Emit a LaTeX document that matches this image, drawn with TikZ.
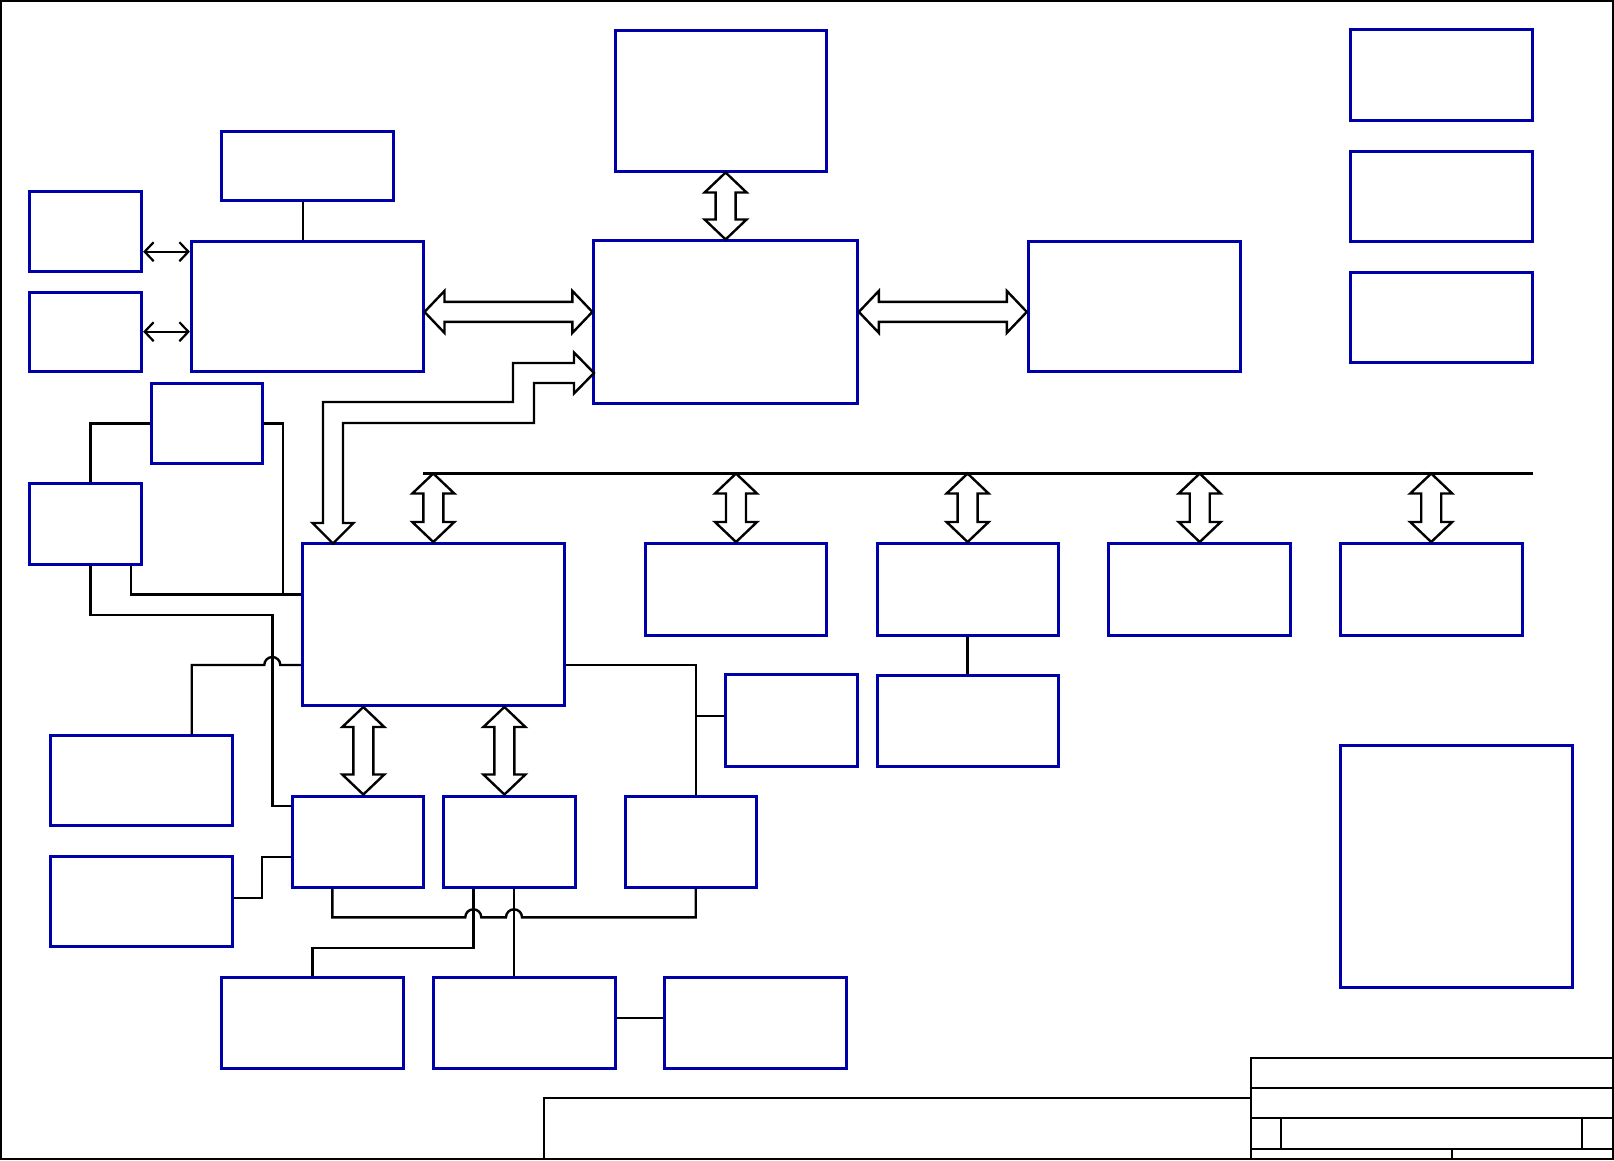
\documentclass[tikz,border=0pt]{standalone}
\usepackage{tikz}
\usetikzlibrary{calc,arrows.meta}

\definecolor{boxblue}{RGB}{0,0,170}

\tikzset{
  blk/.style={draw=boxblue,line width=3pt,rectangle,inner sep=0pt},
  wire/.style={draw=black,line width=2.4pt},
  thinarr/.style={draw=black,line width=2.2pt,
    {Straight Barb[length=9pt,width=19pt]}-{Straight Barb[length=9pt,width=19pt]}},
  fatarr/.style={draw=black,fill=white,line width=2.4pt},
  % double block arrow, start on top, target below
  vdbl/.style={fatarr,to path={let \p1=(\tikztostart), \p2=(\tikztotarget) in
    (\x1,\y1) -- (\x1+21pt,\y1-20pt) -- (\x1+10pt,\y1-20pt) -- (\x1+10pt,\y2+20pt)
    -- (\x1+21pt,\y2+20pt) -- (\x1,\y2) -- (\x1-21pt,\y2+20pt) -- (\x1-10pt,\y2+20pt)
    -- (\x1-10pt,\y1-20pt) -- (\x1-21pt,\y1-20pt) -- cycle}},
  % double block arrow, start left, target right
  hdbl/.style={fatarr,to path={let \p1=(\tikztostart), \p2=(\tikztotarget) in
    (\x1,\y1) -- (\x1+20pt,\y1+21pt) -- (\x1+20pt,\y1+10pt) -- (\x2-20pt,\y1+10pt)
    -- (\x2-20pt,\y1+21pt) -- (\x2,\y1) -- (\x2-20pt,\y1-21pt) -- (\x2-20pt,\y1-10pt)
    -- (\x1+20pt,\y1-10pt) -- (\x1+20pt,\y1-21pt) -- cycle}},
  tb/.style={draw=black,line width=1.5pt}
}

\begin{document}
\begin{tikzpicture}[x=1pt,y=-1pt]
  \useasboundingbox (0,0) rectangle (1614,1160);
  \draw[line width=2.4pt] (1,1) rectangle (1613,1159);

  % blocks
  \node[blk,minimum width=211pt,minimum height=141pt] (mem) at (721,100.5) {};
  \node[blk,minimum width=182pt,minimum height=91pt] (r1) at (1441.5,75) {};
  \node[blk,minimum width=182pt,minimum height=90pt] (r2) at (1441.5,196) {};
  \node[blk,minimum width=182pt,minimum height=90pt] (r3) at (1441.5,317.5) {};
  \node[blk,minimum width=172pt,minimum height=69pt] (clk) at (307.2,166.3) {};
  \node[blk,minimum width=111.7pt,minimum height=80.3pt] (io1) at (85.8,231.5) {};
  \node[blk,minimum width=111.7pt,minimum height=79.3pt] (io2) at (85.8,332) {};
  \node[blk,minimum width=231.6pt,minimum height=130pt] (cpu) at (307.2,306.5) {};
  \node[blk,minimum width=263.5pt,minimum height=162.5pt] (nb) at (725.6,322.2) {};
  \node[blk,minimum width=212pt,minimum height=130.6pt] (gfx) at (1134.3,306.3) {};
  \node[blk,minimum width=111.3pt,minimum height=80pt] (pw1) at (206.7,423.3) {};
  \node[blk,minimum width=111.7pt,minimum height=80.7pt] (pw2) at (85.8,523.7) {};
  \node[blk,minimum width=261.7pt,minimum height=162pt] (sb) at (433.3,624.5) {};
  \node[blk,minimum width=181pt,minimum height=91.6pt] (p1) at (736,589.3) {};
  \node[blk,minimum width=181pt,minimum height=91.6pt] (p2) at (967.6,589.3) {};
  \node[blk,minimum width=182pt,minimum height=91.6pt] (p3) at (1199.7,589.3) {};
  \node[blk,minimum width=182pt,minimum height=91.6pt] (p4) at (1431.2,589.3) {};
  \node[blk,minimum width=132.4pt,minimum height=91.7pt] (q1) at (791.2,720.8) {};
  \node[blk,minimum width=181pt,minimum height=91pt] (q2) at (967.6,720.8) {};
  \node[blk,minimum width=182pt,minimum height=90pt] (s1) at (141.4,780.7) {};
  \node[blk,minimum width=182pt,minimum height=90.3pt] (s2) at (141.4,901.8) {};
  \node[blk,minimum width=131.3pt,minimum height=91pt] (t1) at (358.3,841.5) {};
  \node[blk,minimum width=131.7pt,minimum height=91pt] (t2) at (509.2,841.5) {};
  \node[blk,minimum width=131.5pt,minimum height=91pt] (t3) at (690.8,841.5) {};
  \node[blk,minimum width=182.7pt,minimum height=91pt] (u1) at (312.6,1022.8) {};
  \node[blk,minimum width=182pt,minimum height=91pt] (u2) at (524.3,1022.8) {};
  \node[blk,minimum width=181.2pt,minimum height=91pt] (u3) at (755.5,1022.8) {};
  \node[blk,minimum width=232.7pt,minimum height=242pt] (big) at (1456.5,866.2) {};

  \coordinate (busL) at (423,473.5);
  \coordinate (busR) at (1533,473.5);

  % wires
  \draw[wire] (302.7,0 |- clk.south) -- (302.7,0 |- cpu.north);
  \draw[thinarr] (io1.east |- 0,251.7) -- (cpu.west |- 0,251.7);
  \draw[thinarr] (io2.east |- 0,331.7) -- (cpu.west |- 0,331.7);
  \draw[wire] (busL) -- (busR);
  \draw[wire] (pw1.west) -| (90.3,0 |- pw2.north);
  \draw[wire] (pw1.east) -| (282.7,594.3);
  \draw[wire] (131,0 |- pw2.south) |- (sb.west |- 0,594.3);
  \draw[wire] (90.3,0 |- pw2.south) |- (272.3,615) |- (t1.west |- 0,805.7);
  \draw[wire] (191.7,0 |- s1.north) |- (264.3,665)
    arc[start angle=180,end angle=0,radius=8pt] -- (sb.west |- 0,665);
  \draw[wire] (s2.east |- 0,897.7) -| (261.7,856.7) -- (t1.west |- 0,856.7);
  \draw[wire] (sb.east |- 0,665) -| (695.7,0 |- t3.north);
  \draw[wire] (q1.west |- 0,715.7) -- (695.7,715.7);
  \draw[wire] (p2.south) -- (q2.north);
  \draw[wire] (332.3,0 |- t1.south) |- (465.3,917.3)
    arc[start angle=180,end angle=0,radius=8pt] -- (506,917.3)
    arc[start angle=180,end angle=0,radius=8pt] -- (695.7,917.3) -- (695.7,0 |- t3.south);
  \draw[wire] (473.3,0 |- t2.south) |- (312.3,947.7) -- (312.3,0 |- u1.north);
  \draw[wire] (514,0 |- t2.south) -- (514,0 |- u2.north);
  \draw[wire] (u2.east |- 0,1018) -- (u3.west |- 0,1018);

  % block arrows
  \draw[vdbl] (nb.north |- mem.south) to (nb.north);
  \draw[hdbl] (cpu.east |- 0,311.9) to (nb.west |- 0,311.9);
  \draw[hdbl] (nb.east |- 0,311.9) to (gfx.west |- 0,311.9);
  \draw[vdbl] (sb.north |- busL) to (sb.north);
  \draw[vdbl] (p1.north |- busL) to (p1.north);
  \draw[vdbl] (p2.north |- busL) to (p2.north);
  \draw[vdbl] (p3.north |- busL) to (p3.north);
  \draw[vdbl] (p4.north |- busL) to (p4.north);
  \draw[vdbl] (363.3,0 |- sb.south) to (363.3,0 |- t1.north);
  \draw[vdbl] (504.4,0 |- sb.south) to (504.4,0 |- t2.north);
  \draw[fatarr] (594,373) -- (574,352.5) -- (574,363) -- (513,363) -- (513,402)
    -- (323,402) -- (323,523) -- (312.5,523) -- (333,543.5) -- (353.5,523)
    -- (343,523) -- (343,423) -- (534,423) -- (534,383) -- (574,383)
    -- (574,393.5) -- cycle;

  % title block
  \draw[tb] (544,1098) rectangle (1251,1159);
  \draw[tb] (1251,1058) rectangle (1613,1159);
  \draw[tb] (1251,1088) -- (1613,1088);
  \draw[tb] (1251,1118) -- (1613,1118);
  \draw[tb] (1251,1149) -- (1613,1149);
  \draw[tb] (1281,1118) -- (1281,1149);
  \draw[tb] (1582,1118) -- (1582,1149);
  \draw[tb] (1452,1149) -- (1452,1159);
\end{tikzpicture}
\end{document}
